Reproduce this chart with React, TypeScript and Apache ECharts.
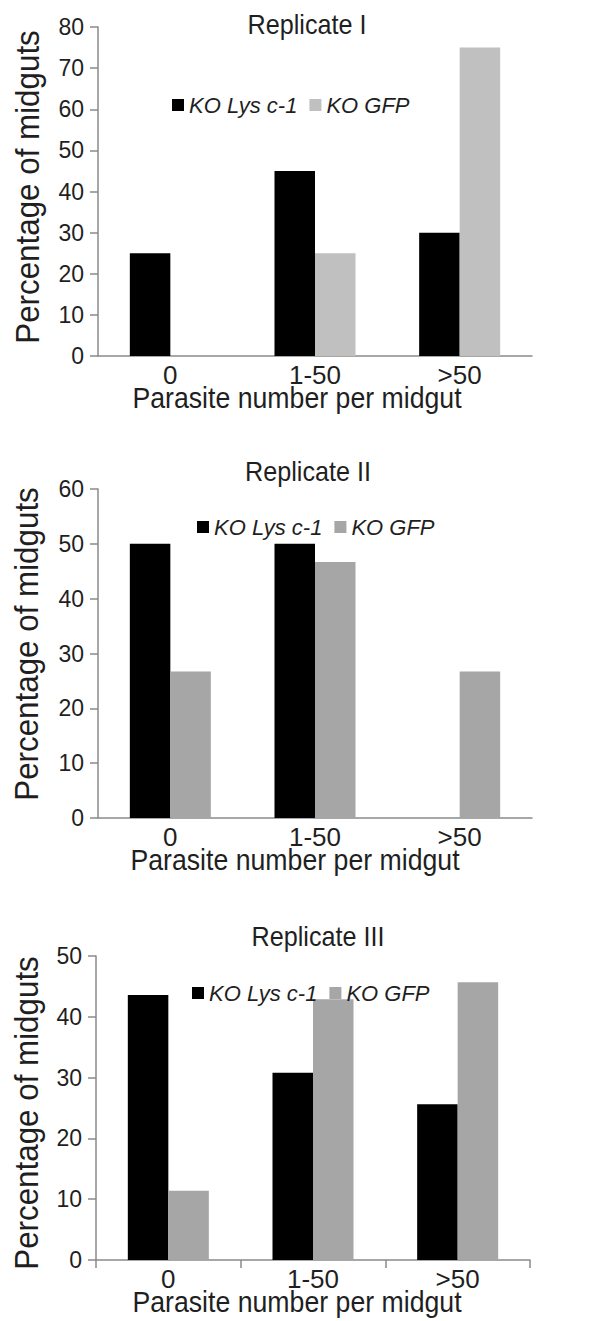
import React, { useEffect, useRef } from "react";
import * as echarts from "echarts";

// ---- data ----
const categories = ["0", "1-50", ">50"];
const seriesNames = ["KO Lys c-1", "KO GFP"];
const rep1Lys = [25, 45, 30];
const rep1Gfp = [0, 25, 75];
const rep2Lys = [50, 50, 0];
const rep2Gfp = [26.7, 46.7, 26.7];
const rep3Lys = [43.6, 30.8, 25.6];
const rep3Gfp = [11.4, 42.9, 45.7];
const titles = ["Replicate I", "Replicate II", "Replicate III"];
const yMax = [80, 60, 50];
const yInterval = 10;
const xName = "Parasite number per midgut";
const yName = "Percentage of midguts";

// ---- layout / style ----
const FONT = '"Liberation Sans", Arial, Helvetica, sans-serif';
const TEXT = "#1f1f1f";
const AXIS = "#8a8a8a";
const grays = ["#c0c0c0", "#a6a6a6", "#a6a6a6"];
const grids = [
  { left: 98, top: 27, width: 434, height: 329 },
  { left: 98, top: 489, width: 434, height: 329 },
  { left: 96, top: 956, width: 434, height: 304 },
];
const legendPos = [
  { left: 167, top: 89 },
  { left: 192, top: 511 },
  { left: 187, top: 977 },
];
const titlePos = [
  [307, 25],
  [308, 472],
  [318, 937],
];
const xNamePos = [
  [297, 398],
  [295, 860],
  [297, 1302],
];
const yNamePos = [
  [28, 187],
  [27, 644],
  [27, 1113],
];
const xTickShow = [false, false, true];

export default function App() {
  const ref = useRef<HTMLDivElement>(null);
  useEffect(() => {
    if (!ref.current) return;
    const chart = echarts.init(ref.current, undefined, { renderer: "svg" });
    const data = [
      [rep1Lys, rep1Gfp],
      [rep2Lys, rep2Gfp],
      [rep3Lys, rep3Gfp],
    ];
    const series: any[] = [];
    data.forEach((pair, i) => {
      pair.forEach((vals, j) => {
        series.push({
          type: "bar",
          name: seriesNames[j],
          xAxisIndex: i,
          yAxisIndex: i,
          data: vals,
          barGap: "0%",
          barCategoryGap: "44%",
          itemStyle: { color: j === 0 ? "#000000" : grays[i] },
        });
      });
    });
    const graphic: any[] = [];
    for (let i = 0; i < 3; i++) {
      graphic.push({
        type: "text",
        x: titlePos[i][0],
        y: titlePos[i][1],
        scaleX: 0.9,
        style: {
          text: titles[i],
          font: `28px ${FONT}`,
          fill: TEXT,
          textAlign: "center",
          textVerticalAlign: "middle",
        },
      });
      graphic.push({
        type: "text",
        x: xNamePos[i][0],
        y: xNamePos[i][1],
        scaleX: 0.92,
        style: {
          text: xName,
          font: `29px ${FONT}`,
          fill: TEXT,
          textAlign: "center",
          textVerticalAlign: "middle",
        },
      });
      graphic.push({
        type: "text",
        x: yNamePos[i][0],
        y: yNamePos[i][1],
        rotation: Math.PI / 2,
        scaleX: 0.95,
        style: {
          text: yName,
          font: `33px ${FONT}`,
          fill: TEXT,
          textAlign: "center",
          textVerticalAlign: "middle",
        },
      });
    }
    chart.setOption({
      animation: false,
      backgroundColor: "#ffffff",
      grid: grids.map((g) => ({ ...g, containLabel: false })),
      xAxis: grids.map((_, i) => ({
        type: "category",
        gridIndex: i,
        data: categories,
        axisLine: { lineStyle: { color: AXIS, width: 1.5 } },
        axisTick: { show: xTickShow[i], length: 8, lineStyle: { color: AXIS, width: 1.5 } },
        axisLabel: { color: TEXT, fontSize: 26, fontFamily: FONT, margin: 6 },
        splitLine: { show: false },
      })),
      yAxis: grids.map((_, i) => ({
        type: "value",
        gridIndex: i,
        min: 0,
        max: yMax[i],
        interval: yInterval,
        axisLine: { show: true, lineStyle: { color: AXIS, width: 1.5 } },
        axisTick: { show: true, length: 8, lineStyle: { color: AXIS, width: 1.5 } },
        axisLabel: { color: TEXT, fontSize: 23, fontFamily: FONT, margin: 14 },
        splitLine: { show: false },
      })),
      legend: legendPos.map((p, i) => ({
        ...p,
        orient: "horizontal",
        icon: "rect",
        itemWidth: 12,
        itemHeight: 12,
        itemGap: 12,
        selectedMode: false,
        textStyle: { color: TEXT, fontSize: 22, fontStyle: "italic", fontFamily: FONT },
        data: [
          { name: seriesNames[0], itemStyle: { color: "#000000" } },
          { name: seriesNames[1], itemStyle: { color: grays[i] } },
        ],
      })),
      graphic,
      series,
    });
    return () => chart.dispose();
  }, []);
  return (
    <div
      ref={ref}
      style={{ position: "absolute", left: 0, top: 0, width: 596, height: 1321, background: "#fff" }}
    />
  );
}
